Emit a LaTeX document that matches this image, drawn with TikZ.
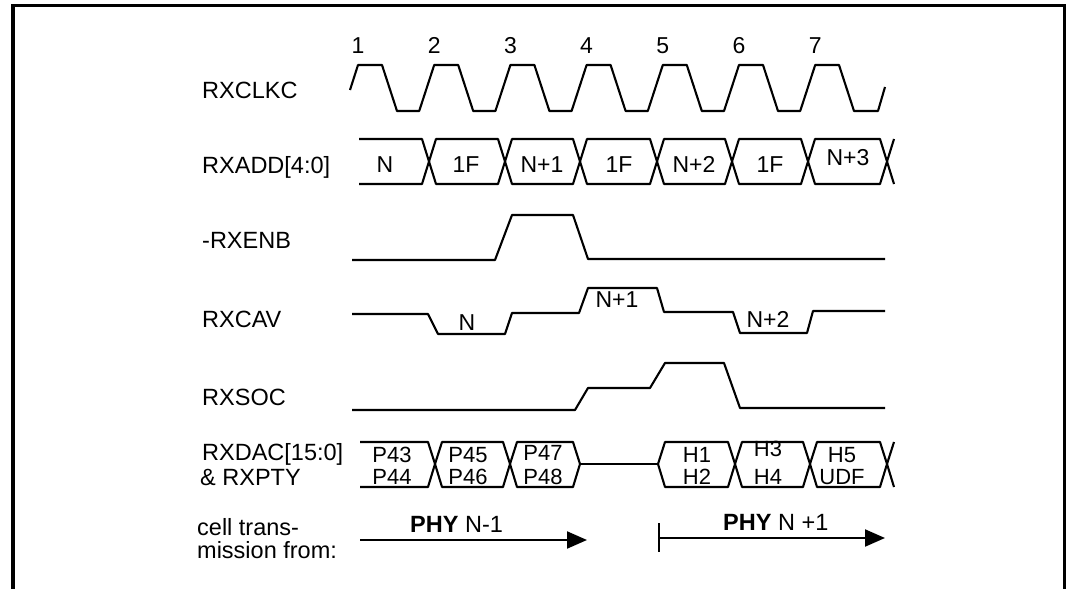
\documentclass[tikz,border=0pt]{standalone}
\usepackage{fontspec}
\setmainfont{Liberation Sans}
\usetikzlibrary{arrows.meta}
\begin{document}
\begin{tikzpicture}[x=1pt,y=-1pt,
  wave/.style={line width=2.1pt, line join=round},
  lbl/.style={anchor=base west, inner sep=0pt, font=\fontsize{23.5}{26}\selectfont},
  val/.style={anchor=base, inner sep=0pt, font=\fontsize{23}{26}\selectfont},
  dval/.style={anchor=base, inner sep=0pt, font=\fontsize{22}{24}\selectfont},
  frameline/.style={line width=3.2pt},
  arr/.style={line width=2.1pt, -{Triangle[length=20pt,width=17pt]}}]

\useasboundingbox (0,0) rectangle (1072,589);
\draw[frameline] (13,589) -- (13,5.5) -- (1064.5,5.5) -- (1064.5,589);

% signal names
\node[lbl] (lclk) at (202,98) {RXCLKC};
\node[lbl] (ladd) at (202,173) {RXADD[4:0]};
\node[lbl] (lenb) at (202,248) {-RXENB};
\node[lbl] (lcav) at (202,327) {RXCAV};
\node[lbl] (lsoc) at (202,405) {RXSOC};
\node[lbl] (ldac) at (202,460) {RXDAC[15:0]};
\node[lbl] (lpty) at (200,485) {\& RXPTY};
\node[lbl] (lcell) at (197,535) {cell trans-};
\node[lbl] (lmiss) at (197,558) {mission from:};

% clock numbers
\foreach \k [evaluate=\k as \xx using {358+76.2*(\k-1)}] in {1,...,7}
  \node[val] (num\k) at (\xx,53) {\k};

% RXCLKC
\draw[wave] (350,90) -- (358,65)
  \foreach \k in {0,...,5} {
    -- ({358+76.2*\k+24},65) -- ({358+76.2*\k+39},111)
    -- ({358+76.2*\k+61.2},111) -- ({358+76.2*(\k+1)},65) }
  -- (839,65) -- (854,111) -- (878,111) -- (885,87);

% RXADD bus
\draw[wave] (359,139) -- (422,139) -- (429,161.5) -- (422,184) -- (359,184);
\foreach \a/\b in {429/505,505/580,580/657,657/732,732/808,808/887}
  \draw[wave] (\a,161.5) -- (\a+7,139) -- (\b-7,139) -- (\b,161.5) -- (\b-7,184) -- (\a+7,184) -- cycle;
\draw[wave] (894,139) -- (887,161.5) -- (894,184);
\node[val] (a1) at (385,172) {N};
\node[val] (a2) at (466,172) {1F};
\node[val] (a3) at (542,172) {N+1};
\node[val] (a4) at (619,172) {1F};
\node[val] (a5) at (694,172) {N+2};
\node[val] (a6) at (770,172) {1F};
\node[val] (a7) at (848,165) {N+3};

% -RXENB
\draw[wave] (352,260) -- (495,260) -- (512,215) -- (573,215) -- (588,259) -- (885,259);

% RXCAV
\draw[wave] (352,314) -- (428,314) -- (438,334) -- (505,334) -- (512,313) -- (579,313)
  -- (588,288) -- (657,288) -- (664,312) -- (733,312) -- (740,333) -- (807,333)
  -- (813,311) -- (885,311);
\node[val] (c1) at (467,330) {N};
\node[val] (c2) at (617,307) {N+1};
\node[val] (c3) at (768,327) {N+2};

% RXSOC
\draw[wave] (352,410) -- (575,410) -- (588,388) -- (650,388) -- (665,363) -- (724,363) -- (740,408) -- (885,408);

% RXDAC bus
\draw[wave] (360,442) -- (428,442) -- (435,464) -- (428,487) -- (360,487);
\foreach \a/\b in {435/510,510/580,658/735,735/810,810/887}
  \draw[wave] (\a,464) -- (\a+7,442) -- (\b-7,442) -- (\b,464) -- (\b-7,487) -- (\a+7,487) -- cycle;
\draw[wave] (580,464) -- (658,464);
\draw[wave] (894,442) -- (887,464) -- (894,487);
\node[dval] (d1) at (392,462) {P43};
\node[dval] (d2) at (392,484) {P44};
\node[dval] (d3) at (468,462) {P45};
\node[dval] (d4) at (468,484) {P46};
\node[dval] (d5) at (543,460) {P47};
\node[dval] (d6) at (543,484) {P48};
\node[dval] (d7) at (697,462) {H1};
\node[dval] (d8) at (697,484) {H2};
\node[dval] (d9) at (768,456) {H3};
\node[dval] (d10) at (768,484) {H4};
\node[dval] (d11) at (842,462) {H5};
\node[dval] (d12) at (842,484) {UDF};

% cell transmission arrows
\coordinate (p1s) at (360,540);
\coordinate (p1e) at (587,540);
\draw[arr] (p1s) -- (p1e);
\node[lbl] (phy1) at (410,532) {\textbf{PHY} N-1};
\coordinate (p2s) at (659,538);
\coordinate (p2e) at (885,538);
\coordinate (t1) at (659,523);
\coordinate (t2) at (659,552);
\draw[line width=2.1pt] (t1) -- (t2);
\draw[arr] (p2s) -- (p2e);
\node[lbl] (phy2) at (723,530) {\textbf{PHY} N +1};
\end{tikzpicture}
\end{document}
